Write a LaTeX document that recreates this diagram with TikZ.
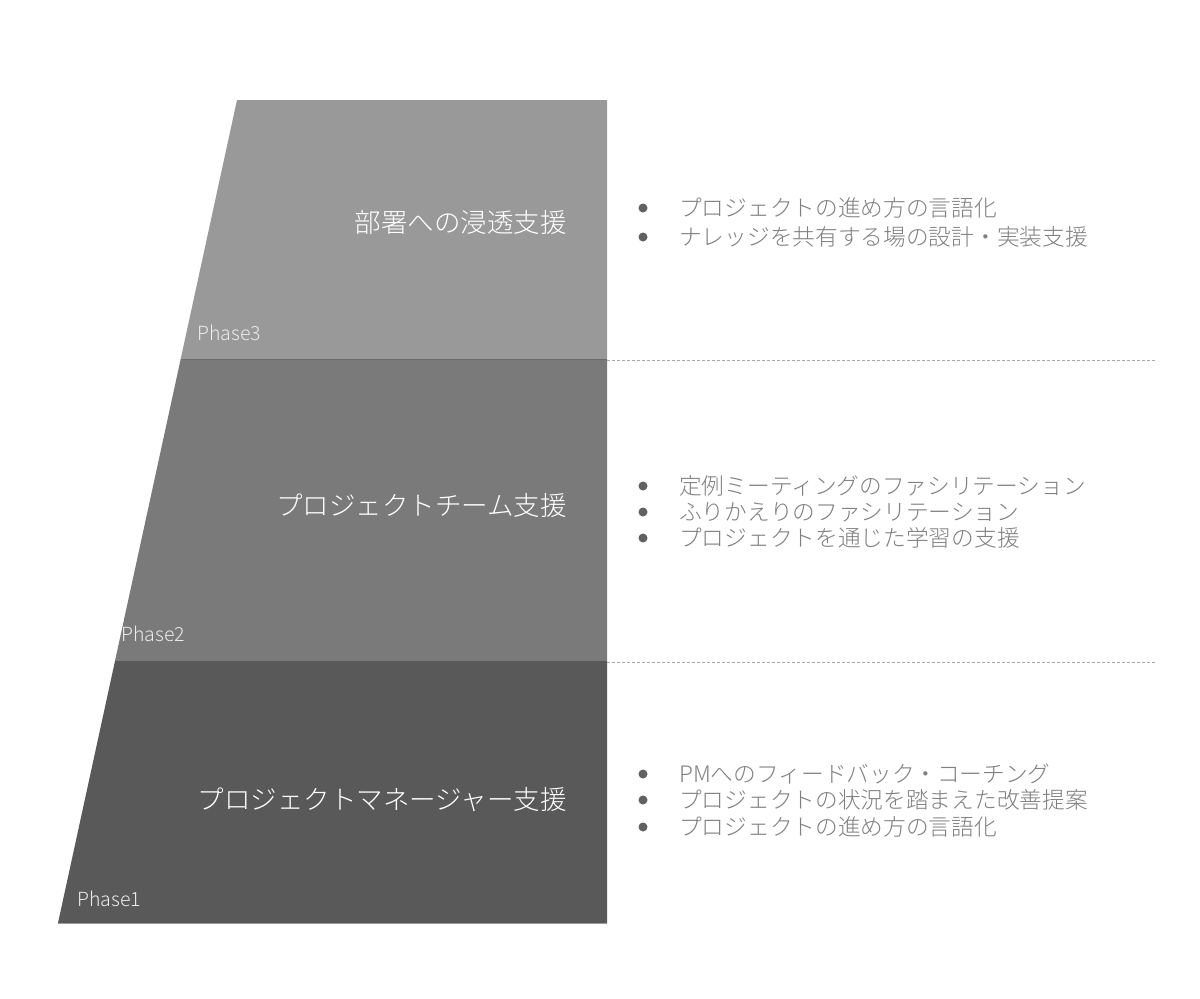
\documentclass[tikz,border=0pt]{standalone}
\usepackage{fontspec}
\IfFontExistsTF{Noto Sans CJK JP Light}{\setmainfont{Noto Sans CJK JP Light}}{\setmainfont{Noto Sans CJK JP}}
\begin{document}
\begin{tikzpicture}[x=1pt,y=-1pt,
  title/.style={anchor=east,inner sep=0pt,text=white,font=\fontsize{26.5}{30}\selectfont},
  phase/.style={anchor=base west,inner sep=0pt,text=white!92!black,font=\fontsize{19.5}{22}\selectfont},
  item/.style={anchor=west,inner sep=0pt,text=black!50,font=\fontsize{22.7}{25}\selectfont},
  dot/.style={circle,fill=black!62,inner sep=0pt,minimum size=9pt},
  sep/.style={draw=black!35,dash pattern=on 3pt off 2pt,line width=0.8pt}]
\useasboundingbox (0,0) rectangle (1200,999);
\fill[white] (0,0) rectangle (1200,999);
% bands
\fill[fill=black!40] (237,100) -- (607,100) -- (607,359) -- (180.7,359) -- cycle;
\fill[fill=black!52] (180.7,359) -- (607,359) -- (607,661) -- (115,661) -- cycle;
\fill[fill=black!65] (115,661) -- (607,661) -- (607,923) -- (58,923) -- cycle;
\draw[black!58,line width=0.8pt] (180.7,359) -- (607,359);
\draw[black!40,line width=0.8pt] (58,923.5) -- (607,923.5);
% separators
\coordinate (s1a) at (607,360.5);
\coordinate (s1b) at (1155,360.5);
\coordinate (s2a) at (607,662.5);
\coordinate (s2b) at (1155,662.5);
\draw[sep] (s1a) -- (s1b);
\draw[sep] (s2a) -- (s2b);
% titles
\node[title] (t3) at (567,222) {部署への浸透支援};
\node[title] (t2) at (567,505) {プロジェクトチーム支援};
\node[title] (t1) at (567,800) {プロジェクトマネージャー支援};
% phase labels
\node[phase] (p3) at (197,340) {Phase3};
\node[phase] (p2) at (121,641) {Phase2};
\node[phase] (p1) at (77,906) {Phase1};
% lists
\node[dot] (d31) at (643,208) {};
\node[item] (i31) at (679,208) {プロジェクトの進め方の言語化};
\node[dot] (d32) at (643,237) {};
\node[item] (i32) at (679,237) {ナレッジを共有する場の設計・実装支援};
\node[dot] (d21) at (643,486) {};
\node[item] (i21) at (679,486) {定例ミーティングのファシリテーション};
\node[dot] (d22) at (643,512) {};
\node[item] (i22) at (679,512) {ふりかえりのファシリテーション};
\node[dot] (d23) at (643,538) {};
\node[item] (i23) at (679,538) {プロジェクトを通じた学習の支援};
\node[dot] (d11) at (643,774) {};
\node[item] (i11) at (679,774) {PMへのフィードバック・コーチング};
\node[dot] (d12) at (643,800) {};
\node[item] (i12) at (679,800) {プロジェクトの状況を踏まえた改善提案};
\node[dot] (d13) at (643,827) {};
\node[item] (i13) at (679,827) {プロジェクトの進め方の言語化};
\end{tikzpicture}
\end{document}
